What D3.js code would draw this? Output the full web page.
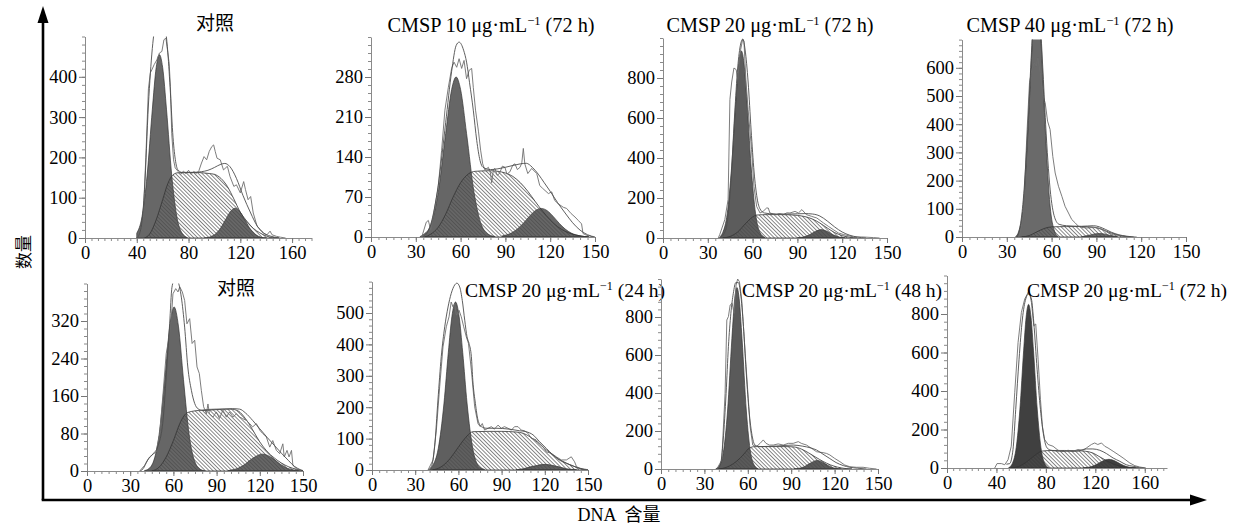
<!DOCTYPE html>
<html><head><meta charset="utf-8">
<script src="https://cdn.jsdelivr.net/npm/d3@7"></script>
<style>body{margin:0;background:#fff}</style>
</head><body>
<svg id="c" width="1237" height="529" xmlns="http://www.w3.org/2000/svg"></svg>
<script>
// ---------- titles & ticks ----------
const titleMain = ["对照", "CMSP 10 μg·mL", "CMSP 20 μg·mL", "CMSP 40 μg·mL", "对照", "CMSP 20 μg·mL", "CMSP 20 μg·mL", "CMSP 20 μg·mL"];
const titleSup  = ["", "−1", "−1", "−1", "", "−1", "−1", "−1"];
const titleTail = ["", " (72 h)", " (72 h)", " (72 h)", "", " (24 h)", " (48 h)", " (72 h)"];
const yTicks = [[0,100,200,300,400],[0,70,140,210,280],[0,200,400,600,800],[0,100,200,300,400,500,600],
                [0,80,160,240,320],[0,100,200,300,400,500],[0,200,400,600,800],[0,200,400,600,800]];
const xTicks = [[0,40,80,120,160],[0,30,60,90,120,150],[0,30,60,90,120,150],[0,30,60,90,120,150],
                [0,30,60,90,120,150],[0,30,60,90,120,150],[0,30,60,90,120,150],[0,40,80,120,160]];
const xMax = [175,150,150,150,150,150,150,178];
const yMax = [500,350,1000,700,400,600,1000,1000];
const xLabel = "DNA 含量";
const yLabel = "数量";

// ---------- series: [DNA content, count] ----------
// Panel 1 对照 (top)
const p1G1 = [[40,12],[44,52],[48,156],[52,318],[55,423],[57.5,455],[60,423],[63,318],[67,156],[71,52],[75,12],[79,1]];
const p1S  = [[46,0],[50,10],[55,45],[60,95],[64,135],[68,157],[72,162],[80,163],[90,162],[96,160],[100,158],[105,148],[110,128],[115,97],[120,64],[125,42],[130,24],[135,13],[140,5],[145,1],[150,0]];
const p1G2 = [[92,0],[96,2],[100,8],[104,21],[108,42],[112,64],[116,74],[120,64],[124,42],[128,21],[132,8],[136,2],[140,0]];
const p1Fit = [[40,0],[43,20],[46,120],[49,330],[52,470],[55,540],[58,560],[61,540],[64,460],[66,360],[68,250],[70,190],[72,168],[76,162],[85,163],[95,168],[100,175],[105,183],[108,185],[112,177],[117,148],[122,106],[128,62],[133,30],[138,12],[143,5],[150,0]];
const p1Raw = [[40,0],[43,15],[45,55],[47,200],[49,370],[50.5,410],[51.6,417],[53.4,430],[55.5,442],[57.5,459],[59.4,463],[61,492],[62.5,496],[63.7,467],[65,434],[66,376],[67,260],[68.4,194],[69.7,174],[72,165],[74,158],[76,166],[78,160],[80,168],[82,158],[84,165],[86,160],[88,167],[90,186],[92,202],[94,194],[96,215],[98,227],[99.4,231],[100.6,215],[102,198],[104.5,194],[107,169],[110,178],[112,153],[115,128],[117,132],[120,112],[122.6,140],[124,120],[126,95],[128,103],[130,62],[133,29],[135.5,21],[138,12],[140.6,8],[143,17],[144.5,8],[148,4],[151,2],[155,0]];

// Panel 2 CMSP 10 (72 h)
const p2G1 = [[33,1],[35,4],[40,21],[45,78],[50,181],[54,258],[57,280],[60,258],[64,181],[69,78],[74,21],[79,4],[83,1]];
const p2S  = [[36,0],[40,5],[45,17],[50,40],[55,70],[60,95],[65,110],[70,115],[80,116],[90,112],[95,106],[100,95],[105,80],[110,62],[115,45],[120,30],[125,18],[130,10],[135,5],[140,2],[146,0]];
const p2G2 = [[88,2],[94,7],[98,14],[102,24],[106,36],[110,46],[114,50],[118,46],[122,36],[126,24],[130,14],[134,7],[140,2],[146,0]];
const p2Fit = [[35,0],[40,22],[45,90],[50,200],[54,290],[57,335],[59,341],[62,327],[64,306],[66,270],[68.5,222],[70.8,169],[73,134],[75,122],[80,118],[90,122],[100,128],[104,129],[108,122],[112,110],[116,95],[120,80],[125,60],[130,42],[135,25],[140,12],[145,4],[150,0]];
const p2Raw = [[34,0],[37,26],[38.4,29],[40,12],[42,41],[45,87],[47.3,152],[49.5,222],[51.8,262],[54,295],[55.6,306],[57.4,297],[59,312],[60.7,295],[62.3,309],[64,277],[65.8,292],[67.4,295],[68.5,262],[70,222],[72,184],[73.4,152],[74.8,128],[76.3,117],[78.6,122],[80,112],[80.8,95],[82,118],[83,120],[84.5,108],[86,111],[88,124],[89.7,122],[91,110],[93,114],[95,126],[96.4,128],[98,118],[99.8,122],[101,130],[102,155],[103,128],[105,111],[107.6,120],[111,111],[113,90],[115,85],[118.8,76],[121,79],[123,64],[125.4,58],[128.8,52],[131,50],[134,41],[136.6,35],[138.8,29],[141,23],[142,6],[144.4,3],[149,0]];

// Panel 3 CMSP 20 (72 h)
const p3G1 = [[38,5],[40,27],[43,121],[46,359],[49,709],[51,889],[52.5,935],[54,889],[56,709],[59,359],[62,121],[65,27],[68,4]];
const p3S  = [[40,0],[45,8],[50,30],[55,70],[60,105],[63,115],[70,117],[80,117],[90,113],[95,107],[100,95],[105,75],[110,50],[115,27],[120,12],[125,4],[130,0]];
const p3G2 = [[90,1],[94,5],[98,16],[102,33],[106,42],[110,33],[114,16],[118,5],[122,1]];
const p3Fit = [[38,0],[42,40],[45,230],[48,620],[50,850],[52,970],[53.5,995],[55,940],[57,780],[59,540],[61,330],[63,200],[65,145],[68,125],[75,120],[85,120],[95,122],[100,120],[105,110],[110,85],[115,55],[120,30],[125,14],[130,5],[136,0]];
const p3Raw = [[37,0],[38,17],[41.4,92],[43.6,192],[44.8,692],[46,780],[47.5,850],[49,842],[50,792],[52,942],[53.3,992],[54.2,983],[55.5,792],[57,642],[59.3,442],[60.9,258],[62.7,158],[65,125],[67,133],[69.4,150],[70.5,150],[71.6,125],[74,120],[76,117],[78,122],[80.6,117],[83,126],[85,125],[88.4,133],[90.7,125],[93,142],[96,117],[99.6,108],[103,100],[107.5,75],[110.8,58],[114,42],[117.5,25],[121,17],[124,12],[127.6,5],[134,5],[141,2],[145,0]];

// Panel 4 CMSP 40 (72 h)
const p4G1 = [[36,2],[38,20],[41,110],[44,360],[46,580],[48,770],[50,830],[52,770],[54,580],[56,360],[59,110],[62,20],[64,3]];
const p4S  = [[40,0],[45,5],[50,18],[55,30],[60,36],[70,37],[80,37],[88,35],[93,28],[98,18],[103,9],[108,3],[113,0]];
const p4G2 = [[80,1],[85,6],[89,11],[92,12],[95,11],[99,6],[104,1]];
const p4Fit = [[37,0],[39,40],[41,130],[44,380],[46,600],[48,790],[50,850],[52,790],[54,610],[56,400],[59,170],[62,70],[65,45],[70,40],[80,38],[88,40],[92,36],[96,27],[100,17],[105,8],[110,3],[115,0]];
const p4Raw = [[38,0],[39,14],[41.2,85],[43.5,369],[45.2,547],[46.8,594],[48.4,618],[49.7,606],[50.8,635],[52.4,582],[54.2,500],[55.7,476],[57.3,411],[59,381],[60.8,286],[62.4,227],[64.6,180],[66.9,144],[69,109],[71.3,85],[73.5,62],[75.8,50],[78,38],[80.2,34],[83.6,32],[88,34],[91.4,32],[94.7,26],[98,14],[101.4,8],[105.9,5],[110,2],[117,0]];

// Panel 5 对照 (bottom)
const p5G1 = [[40,1],[42,3],[46,19],[50,76],[54,195],[57.5,309],[60.5,350],[63.5,309],[67,195],[71,76],[75,19],[79,3],[82,0]];
const p5S  = [[45,0],[50,8],[55,30],[60,65],[65,105],[70,125],[80,130],[90,132],[100,132],[105,128],[110,112],[115,88],[120,62],[125,42],[130,28],[135,17],[140,9],[145,4],[150,1]];
const p5G2 = [[98,1],[100,2],[105,6],[110,15],[115,27],[122,36],[129,27],[134,15],[139,6],[144,2],[150,0]];
const p5Fit = [[37,0],[39,5],[42,23],[46,37],[49,51],[52.8,108],[55,201],[57.4,314],[59,392],[61,410],[63,405],[65.5,371],[67.8,307],[70,222],[72.5,172],[74.8,144],[77,133],[80.5,129],[90,131],[101,133],[106,132],[110,124],[115,108],[120,90],[125,72],[130,55],[135,38],[140,22],[144,10],[148,3],[150,0]];
const p5Raw = [[36.6,0],[40,12],[43.5,30],[46.3,37],[48,40],[50.5,80],[52.8,165],[55,250],[57,286],[58.6,328],[59.7,378],[61.6,389],[63.2,382],[64.4,393],[66.2,382],[67.8,364],[69.4,314],[71.3,325],[73,272],[74.8,279],[76.4,222],[78,208],[79.4,172],[81,137],[82.9,122],[84,143],[85,122],[87.5,115],[89.8,126],[92,112],[94.4,130],[96.8,115],[99,126],[101.4,115],[103.7,122],[106,115],[108,112],[110.6,108],[113,101],[115,94],[117.6,101],[120,87],[122,80],[124.5,73],[126.9,51],[129,65],[131.5,44],[133.8,37],[136,58],[137,30],[138.9,44],[140.3,30],[142,44],[143,12],[145.4,5],[149,0]];

// Panel 6 CMSP 20 (24 h)
const p6G1 = [[40,1],[42,13],[46,68],[50,213],[53,374],[55.5,489],[58,535],[60.5,489],[63,374],[66,213],[70,68],[74,13],[78,2]];
const p6S  = [[42,0],[48,10],[53,30],[58,60],[63,92],[67,113],[70,122],[80,123],[90,123],[100,121],[105,117],[110,105],[115,88],[120,68],[125,50],[130,34],[135,22],[140,12],[145,5],[150,1]];
const p6G2 = [[100,1],[105,4],[110,10],[115,15],[120,18],[125,15],[130,10],[135,4],[142,1]];
const p6Fit = [[39,0],[41.2,11],[43.5,74],[45.8,223],[48.1,361],[50.5,456],[52.8,519],[55,562],[57.4,589],[59,595],[60.9,583],[62.7,540],[64.4,477],[66,424],[67.4,403],[69,361],[70,286],[71.8,212],[73.6,159],[76,138],[79.4,133],[86,133],[95.6,130],[102.5,125],[107,122],[111.8,112],[116.4,90],[121,69],[125.7,48],[130,32],[135,21],[139.6,13],[144,5],[149,0]];
const p6Raw = [[38.9,0],[42.4,32],[44.7,127],[47,265],[49.3,392],[51.6,456],[53.5,488],[55,535],[56.3,519],[57.4,530],[58.6,493],[60.4,509],[62,488],[63.7,456],[65.5,424],[67,403],[69,318],[71.3,201],[73.6,148],[75.2,138],[76.6,148],[78.2,127],[80.6,133],[82.9,138],[85,130],[87.5,143],[89.8,133],[92,138],[94.4,133],[96.8,127],[99,138],[101.4,138],[103.7,127],[106,125],[108.3,117],[110.6,101],[114,96],[116.4,85],[118.8,74],[121,58],[124.5,53],[128,42],[131.5,32],[135,32],[138.4,42],[140.7,26],[142,11],[145.4,2],[150,0]];

// Panel 7 CMSP 20 (48 h)
const p7G1 = [[38,2],[40,14],[43,83],[46,305],[49,686],[51,898],[52.5,955],[54,898],[56,686],[59,305],[62,83],[65,14],[67,2]];
const p7S  = [[40,0],[45,8],[50,28],[55,60],[58,85],[61,110],[65,118],[75,118],[85,118],[92,116],[97,105],[102,85],[107,62],[112,40],[117,22],[122,10],[127,3],[132,0]];
const p7G2 = [[92,1],[95,3],[99,12],[103,30],[108,45],[113,30],[117,12],[121,3],[124,1]];
const p7Fit = [[39,0],[41,21],[43,153],[45,398],[46.6,644],[48.3,819],[50,925],[51.7,981],[53.5,981],[55,925],[57,749],[58.8,521],[60.6,328],[62.7,188],[65,126],[68.5,118],[80,121],[91.4,126],[98,120],[103,112],[107.5,100],[112,78],[116.7,55],[121,34],[126,18],[130.5,9],[136,4],[142,0]];
const p7Raw = [[38.6,0],[42,47],[44.3,398],[45.5,784],[46.6,802],[47.8,863],[49.2,872],[50.5,819],[51.9,968],[53,1000],[54.2,986],[55.8,889],[57,749],[58.8,539],[60.4,363],[61.6,223],[63.4,126],[66,118],[68.5,135],[70.7,153],[72.6,135],[74.9,126],[77.6,126],[81,132],[84.5,126],[88,135],[91.4,135],[94.9,144],[97,135],[100.6,126],[104,109],[107.5,91],[112,86],[114.4,82],[116.7,74],[120,56],[123.6,39],[127,21],[130.5,12],[135,9],[139.7,9],[144,4],[149,0]];

// Panel 8 CMSP 20 (72 h, bottom)
const p8G1 = [[50,2],[53,25],[56,106],[59,306],[62,609],[64,782],[66,850],[68,782],[70,609],[73,306],[76,106],[79,25],[82,3]];
const p8S  = [[52,0],[58,8],[63,25],[68,50],[73,75],[77,88],[85,91],[95,91],[105,90],[112,87],[118,78],[123,60],[128,42],[133,25],[138,13],[143,6],[148,2],[153,0]];
const p8G2 = [[110,1],[112,2],[117,8],[122,22],[126,36],[131,45],[136,36],[140,22],[145,8],[150,2],[155,0]];
const p8Fit = [[48,20],[50.7,23],[53.4,96],[55.6,304],[58.3,565],[61,774],[63.7,878],[66,904],[68.3,878],[70.2,757],[72.9,513],[75.6,304],[78.3,165],[81,104],[84.5,92],[91.2,87],[104.7,87],[112.8,99],[118,99],[123.6,92],[129,75],[134.4,52],[139.8,35],[145,17],[150.6,9],[156,2],[160,0]];
const p8Raw = [[38.6,0],[40.5,23],[44,23],[46.7,17],[49.4,43],[52,113],[54.8,391],[57.5,652],[60.2,809],[62.9,878],[65,904],[66.4,922],[68.3,861],[70.2,739],[71.8,748],[73.7,565],[75.6,357],[77.2,217],[79,148],[81.8,122],[85.8,113],[89.9,92],[93.9,87],[98,92],[102,87],[106,96],[110,92],[112.8,104],[116.8,122],[119.5,130],[122,122],[125,130],[127.6,113],[130.3,104],[134.4,87],[138.4,70],[142.5,52],[147.9,26],[152,12],[156,5],[161,0]];

const panels = [
  {g1:p1G1,s:p1S,g2:p1G2,fit:p1Fit,raw:p1Raw},
  {g1:p2G1,s:p2S,g2:p2G2,fit:p2Fit,raw:p2Raw},
  {g1:p3G1,s:p3S,g2:p3G2,fit:p3Fit,raw:p3Raw},
  {g1:p4G1,s:p4S,g2:p4G2,fit:p4Fit,raw:p4Raw},
  {g1:p5G1,s:p5S,g2:p5G2,fit:p5Fit,raw:p5Raw},
  {g1:p6G1,s:p6S,g2:p6G2,fit:p6Fit,raw:p6Raw},
  {g1:p7G1,s:p7S,g2:p7G2,fit:p7Fit,raw:p7Raw},
  {g1:p8G1,s:p8S,g2:p8G2,fit:p8Fit,raw:p8Raw}
];

// ---------- layout & style (pixels) ----------
const layout = [
  {x0:85,  x1:311.5, y0:238, y1:36.5, tx:215,  ty:30,  anchor:"middle", ySub:5, fs:19, cjk:true},
  {x0:371, x1:595,   y0:237, y1:37,   tx:491,  ty:32,  anchor:"middle", ySub:5, fs:20.3},
  {x0:663, x1:887,   y0:238, y1:38,   tx:770,  ty:32,  anchor:"middle", ySub:5, fs:20.3},
  {x0:962, x1:1186,  y0:237, y1:39.6, tx:1070, ty:32,  anchor:"middle", ySub:5, fs:20.3},
  {x0:87,  x1:303,   y0:471, y1:283.5,tx:236,  ty:295, anchor:"middle", ySub:5, fs:19, cjk:true},
  {x0:372, x1:588,   y0:470, y1:281.6,tx:465,  ty:297, anchor:"start",  ySub:5, fs:19.6},
  {x0:661, x1:878,   y0:469, y1:279,  tx:742,  ty:297, anchor:"start",  ySub:5, fs:19.6},
  {x0:947, x1:1167,  y0:468, y1:275.5,tx:1027, ty:297, anchor:"start",  ySub:5, fs:19.6}
];
const g1Shade = ["#676767","#666666","#5c5c5c","#6a6a6a","#666666","#5f5f5f","#5a5a5a","#404040"];
const serif = "'Liberation Serif','Times New Roman',serif";
const cjk = "'Noto Sans CJK SC','Liberation Serif',sans-serif";

const svg = d3.select("#c");
const defs = svg.append("defs");
defs.append("pattern").attr("id","hatch").attr("patternUnits","userSpaceOnUse")
  .attr("width",2.7).attr("height",2.7).attr("patternTransform","rotate(-45)")
  .append("line").attr("x1",1.35).attr("x2",1.35).attr("y1",-1).attr("y2",4)
  .attr("stroke","#4a4a4a").attr("stroke-width",0.65);

panels.forEach((p,i)=>{
  const L = layout[i];
  const x = d3.scaleLinear().domain([0,xMax[i]]).range([L.x0,L.x1]);
  const y = d3.scaleLinear().domain([0,yMax[i]]).range([L.y0,L.y1]);
  const g = svg.append("g");
  defs.append("clipPath").attr("id","clip"+i).append("rect")
    .attr("x",L.x0).attr("y",L.y1).attr("width",L.x1-L.x0).attr("height",L.y0-L.y1);
  const pg = g.append("g").attr("clip-path",`url(#clip${i})`);
  const area = d3.area().x(d=>x(d[0])).y0(y(0)).y1(d=>y(d[1])).curve(d3.curveMonotoneX);
  const smooth = d3.line().x(d=>x(d[0])).y(d=>y(d[1])).curve(d3.curveMonotoneX);
  const jag = d3.line().x(d=>x(d[0])).y(d=>y(d[1]));

  pg.append("path").datum(p.g1).attr("d",area).attr("fill",g1Shade[i]).attr("stroke","#333").attr("stroke-width",0.7);
  pg.append("path").datum(p.g2).attr("d",area).attr("fill",g1Shade[i]).attr("stroke","#333").attr("stroke-width",0.7);
  pg.append("path").datum(p.s).attr("d",area).attr("fill","url(#hatch)").attr("stroke","#333").attr("stroke-width",0.8);
  pg.append("path").datum(p.raw).attr("d",jag).attr("fill","none").attr("stroke","#6e6e6e").attr("stroke-width",0.9);
  pg.append("path").datum(p.fit).attr("d",smooth).attr("fill","none").attr("stroke","#4d4d4d").attr("stroke-width",0.9);

  // minor ticks
  const yStep = yTicks[i][1]/L.ySub;
  const yMinor = d3.range(0, yMax[i]+1e-6, yStep);
  const xMinor = d3.range(0, xMax[i]+1e-6, 5);
  g.append("g").attr("transform",`translate(${L.x0},0)`)
    .call(d3.axisLeft(y).tickValues(yMinor).tickSize(3).tickSizeOuter(0).tickFormat(""))
    .call(a=>{a.selectAll("line").attr("stroke","#8a8a8a"); a.select(".domain").attr("stroke","#8a8a8a");});
  g.append("g").attr("transform",`translate(0,${L.y0})`)
    .call(d3.axisBottom(x).tickValues(xMinor).tickSize(3).tickSizeOuter(0).tickFormat(""))
    .call(a=>{a.selectAll("line").attr("stroke","#8a8a8a"); a.select(".domain").attr("stroke","#8a8a8a");});
  // major ticks with labels
  g.append("g").attr("transform",`translate(${L.x0},0)`)
    .call(d3.axisLeft(y).tickValues(yTicks[i]).tickSize(6).tickSizeOuter(0).tickPadding(2).tickFormat(d3.format("d")))
    .call(a=>{a.select(".domain").remove(); a.selectAll("line").attr("stroke","#777");
      a.selectAll("text").attr("font-family",serif).attr("font-size",18.5).attr("fill","#000");});
  g.append("g").attr("transform",`translate(0,${L.y0})`)
    .call(d3.axisBottom(x).tickValues(xTicks[i]).tickSize(5).tickSizeOuter(0).tickPadding(3).tickFormat(d3.format("d")))
    .call(a=>{a.select(".domain").remove(); a.selectAll("line").attr("stroke","#777");
      a.selectAll("text").attr("font-family",serif).attr("font-size",18.5).attr("fill","#000");});

  // title
  const t = svg.append("text").attr("x",L.tx).attr("y",L.ty).attr("text-anchor",L.anchor)
    .attr("font-family", L.cjk ? cjk : serif).attr("font-size", L.fs).attr("fill","#000");
  t.append("tspan").text(titleMain[i]);
  if (titleSup[i]) {
    t.append("tspan").attr("font-size",L.fs*0.62).attr("dy",-7).text(titleSup[i]);
    t.append("tspan").attr("dy",7).text(titleTail[i]);
  }
});

// ---------- global axes ----------
svg.append("line").attr("x1",43).attr("y1",500).attr("x2",43).attr("y2",20).attr("stroke","#000").attr("stroke-width",2.6);
svg.append("path").attr("d","M43,6 L37.5,23 L48.5,23 Z").attr("fill","#000");
svg.append("line").attr("x1",41.7).attr("y1",500).attr("x2",1192).attr("y2",500).attr("stroke","#000").attr("stroke-width",2.6);
svg.append("path").attr("d","M1207,500 L1190,494.5 L1190,505.5 Z").attr("fill","#000");
svg.append("text").attr("transform","translate(22,252) rotate(-90)").attr("text-anchor","middle")
  .attr("dominant-baseline","central").attr("font-family",cjk).attr("font-size",17).text(yLabel);
svg.append("text").attr("x",619).attr("y",521).attr("text-anchor","middle")
  .attr("font-family",cjk).attr("font-size",18).text("")
  .call(t=>{t.append("tspan").attr("font-family",serif).text("DNA");
            t.append("tspan").attr("dx",8).text(xLabel.split(" ")[1]);});
</script>
</body></html>
